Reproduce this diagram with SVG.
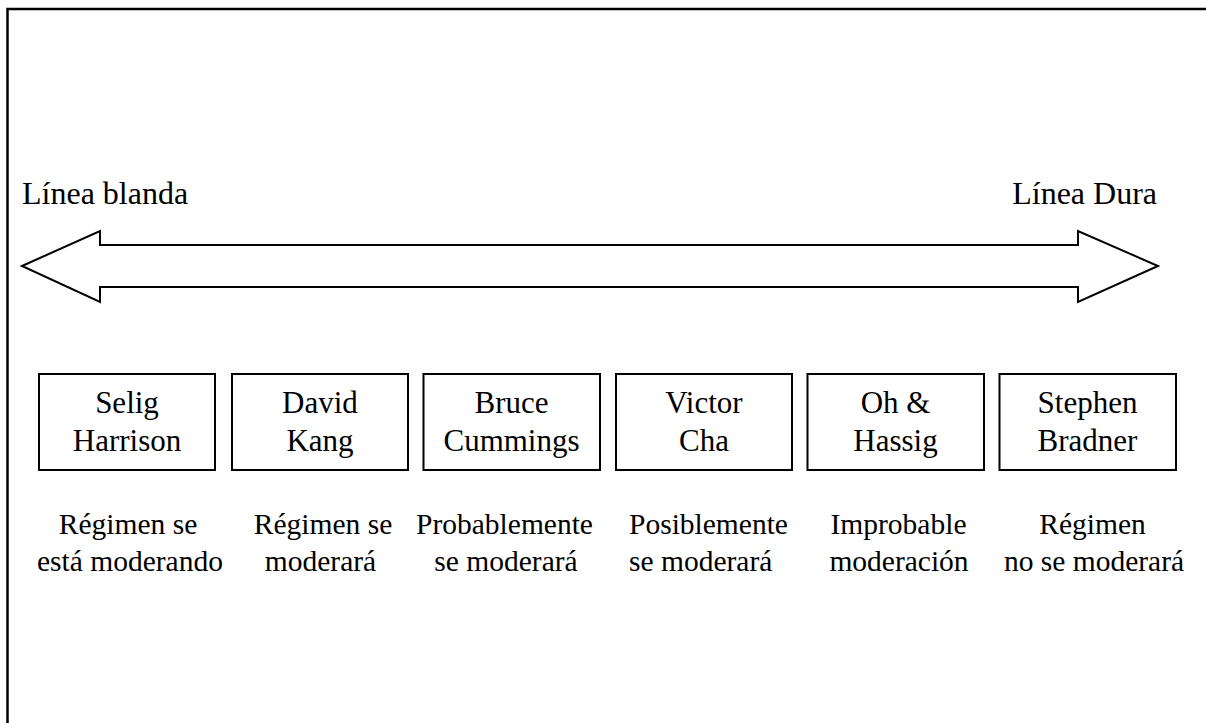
<svg xmlns="http://www.w3.org/2000/svg" width="1206" height="723" viewBox="0 0 1206 723">
  <style>
    text { font-family: "Liberation Serif", "Times New Roman", serif; font-size: 31px; fill: #000; }
    .c { text-anchor: middle; }
    .top { font-size: 32px; }
    .d { font-size: 29.5px; }
    .box { fill: #fff; stroke: #000; stroke-width: 2; }
    .frame { fill: none; stroke: #000; stroke-width: 2.5; }
    .arrow { fill: #fff; stroke: #000; stroke-width: 2; stroke-linejoin: miter; }
  </style>
  <rect width="1206" height="723" fill="#fff"/>
  <path class="frame" d="M7.5,723 V9 H1206"/>
  <g id="labels">
    <text class="top" x="22" y="204">Línea blanda</text>
    <text class="top" x="1157" y="204" text-anchor="end">Línea Dura</text>
  </g>
  <g id="connectors">
    <path class="arrow" d="M22,266 L100,231 L100,245 L1078,245 L1078,231 L1158,266 L1078,302 L1078,287 L100,287 L100,302 Z"/>
  </g>
  <g id="node-harrison">
    <rect class="box" x="39" y="374" width="176" height="96"/>
    <text class="c" x="127" y="413">Selig</text>
    <text class="c" x="127" y="451">Harrison</text>
    <text class="c d" x="128" y="534">Régimen se</text>
    <text class="c d" x="130" y="571">está moderando</text>
  </g>
  <g id="node-kang">
    <rect class="box" x="232" y="374" width="176" height="96"/>
    <text class="c" x="320" y="413">David</text>
    <text class="c" x="320" y="451">Kang</text>
    <text class="c d" x="323" y="534">Régimen se</text>
    <text class="c d" x="320.5" y="571">moderará</text>
  </g>
  <g id="node-cummings">
    <rect class="box" x="423.5" y="374" width="176.5" height="96"/>
    <text class="c" x="511.5" y="413">Bruce</text>
    <text class="c" x="511.5" y="451">Cummings</text>
    <text class="c d" x="504.5" y="534">Probablemente</text>
    <text class="c d" x="506" y="571">se moderará</text>
  </g>
  <g id="node-cha">
    <rect class="box" x="616" y="374" width="176" height="96"/>
    <text class="c" x="704" y="413">Victor</text>
    <text class="c" x="704" y="451">Cha</text>
    <text class="d" x="629" y="534">Posiblemente</text>
    <text class="d" x="629" y="571">se moderará</text>
  </g>
  <g id="node-ohhassig">
    <rect class="box" x="807.5" y="374" width="176.5" height="96"/>
    <text class="c" x="895.5" y="413">Oh &amp;</text>
    <text class="c" x="895.5" y="451">Hassig</text>
    <text class="c d" x="898.5" y="534">Improbable</text>
    <text class="c d" x="899" y="571">moderación</text>
  </g>
  <g id="node-bradner">
    <rect class="box" x="999.5" y="374" width="176.5" height="96"/>
    <text class="c" x="1087.5" y="413">Stephen</text>
    <text class="c" x="1087.5" y="451">Bradner</text>
    <text class="c d" x="1092.5" y="534">Régimen</text>
    <text class="c d" x="1094" y="571">no se moderará</text>
  </g>
</svg>
